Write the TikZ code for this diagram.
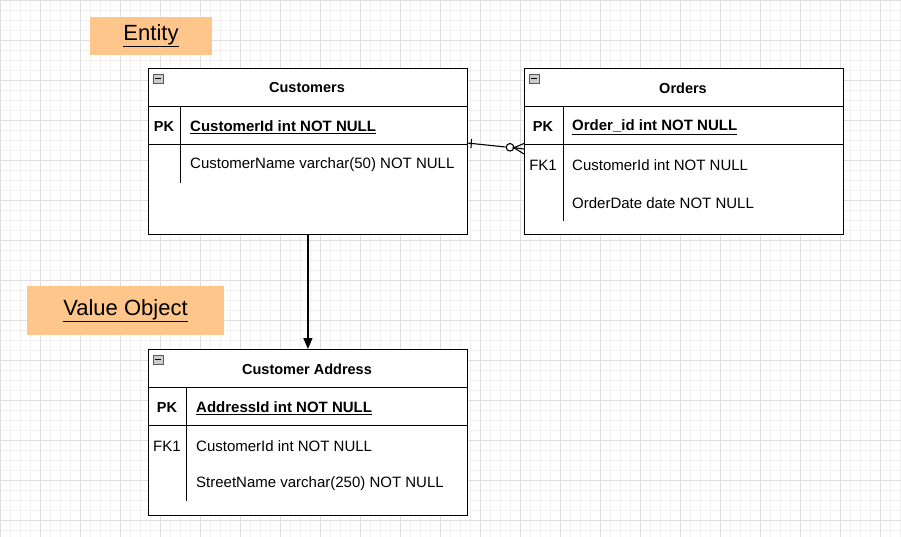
\documentclass[tikz,border=0pt]{standalone}
\usepackage{fontspec}
\setmainfont{Liberation Sans}
\usetikzlibrary{arrows.meta}
\begin{document}
\begin{tikzpicture}[x=1pt,y=-1pt,
  tbl/.style={draw=black,line width=0.8pt,fill=white},
  ln/.style={line width=0.8pt},
  cf/.style={line width=1.1pt},
  ttl/.style={font=\fontsize{14.5}{16}\selectfont\bfseries},
  txt/.style={font=\fontsize{15}{17}\selectfont,anchor=west,inner sep=0},
  btxt/.style={font=\fontsize{15}{17}\selectfont\bfseries,anchor=west,inner sep=0},
  lbl/.style={fill=orange!45!white,draw=none,font=\fontsize{22}{24}\selectfont,inner sep=0}]
\useasboundingbox (0,0) rectangle (901,537);
\fill[white] (0,0) rectangle (901,537);
\foreach \i in {0,10,...,900} \draw[gray!12,line width=0.4pt] (\i,0) -- (\i,537);
\foreach \i in {0,10,...,530} \draw[gray!12,line width=0.4pt] (0,\i) -- (901,\i);
\foreach \i in {0,40,...,900} \draw[gray!25,line width=0.4pt] (\i,0) -- (\i,537);
\foreach \i in {0,40,...,530} \draw[gray!25,line width=0.4pt] (0,\i) -- (901,\i);
% labels
\node[lbl,minimum width=122,minimum height=38] (ent) at (151,36) {\underline{Entity}};
\node[lbl,minimum width=197,minimum height=49] (vo) at (125.5,310.5) {\underline{Value Object}};
\newcommand\myicon[2]{\draw[gray!70!black,fill=gray!40,line width=0.5pt] (#1,#2) rectangle ++(10,9); \draw[line width=1pt] (#1+2,#2+4.5) -- ++(6,0);}
% Customers
\node[tbl,minimum width=319,minimum height=166,anchor=north west,inner sep=0] (cust) at (148,68) {};
\myicon{153}{74}
\node[ttl] (custt) at (307,88) {Customers};
\draw[ln] (148,106) -- (467,106);
\draw[ln] (148,144) -- (467,144);
\draw[ln] (180,106) -- (180,183);
\node[ttl] (c1) at (164,127) {PK};
\node[btxt] (c2) at (190,127) {\underline{CustomerId int NOT NULL}};
\node[txt] (c3) at (190,165) {CustomerName varchar(50) NOT NULL};
% Orders
\node[tbl,minimum width=319,minimum height=166,anchor=north west,inner sep=0] (ord) at (524,68) {};
\myicon{529}{74}
\node[ttl] (ordt) at (683,88) {Orders};
\draw[ln] (524,106) -- (843,106);
\draw[ln] (524,144) -- (843,144);
\draw[ln] (563,106) -- (563,221);
\node[ttl] (o1) at (543,127) {PK};
\node[btxt] (o2) at (572,127) {\underline{Order\_id int NOT NULL}};
\node[font=\fontsize{15}{17}\selectfont] (o3) at (543,165) {FK1};
\node[txt] (o4) at (572,165) {CustomerId int NOT NULL};
\node[txt] (o5) at (572,203) {OrderDate date NOT NULL};
% Address
\node[tbl,minimum width=319,minimum height=166,anchor=north west,inner sep=0] (addr) at (148,349) {};
\myicon{153}{355}
\node[ttl] (addrt) at (307,369) {Customer Address};
\draw[ln] (148,387) -- (467,387);
\draw[ln] (148,425) -- (467,425);
\draw[ln] (186,387) -- (186,501);
\node[ttl] (a1) at (167,408) {PK};
\node[btxt] (a2) at (196,408) {\underline{AddressId int NOT NULL}};
\node[font=\fontsize{15}{17}\selectfont] (a3) at (167,446) {FK1};
\node[txt] (a4) at (196,446) {CustomerId int NOT NULL};
\node[txt] (a5) at (196,484) {StreetName varchar(250) NOT NULL};
% connectors
\coordinate (p1) at (467,143);
\coordinate (p2) at (524,149);
\draw[cf] (p1) -- (505.5,147);
\draw[cf] (471.5,139) -- (471,148);
\draw[cf,fill=white] (510,147.3) circle (3.8);
\draw[cf] (524,143.5) -- (513.8,147.7) -- (p2);
\draw[cf] (513.8,147.7) -- (524,154);
\draw[line width=1.2pt,-{Triangle[length=11,width=9]}] (cust.south) -- (addr.north);
\end{tikzpicture}
\end{document}
